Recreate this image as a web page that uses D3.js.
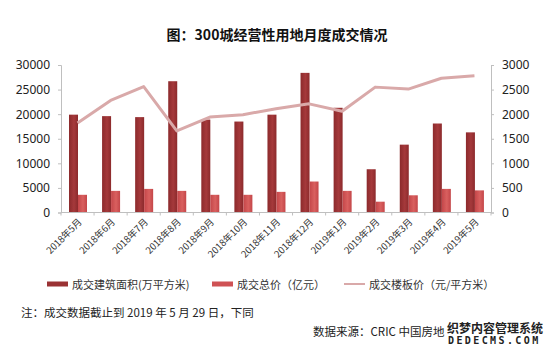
<!DOCTYPE html>
<html><head><meta charset="utf-8">
<script src="https://cdn.jsdelivr.net/npm/d3@7"></script>
<style>
html,body{margin:0;padding:0;background:#fff;}
svg{display:block;font-family:"Noto Sans CJK SC","Noto Sans",sans-serif;}
</style></head>
<body><svg id="c" width="554" height="355"></svg>
<script>
const categories = ["2018年5月","2018年6月","2018年7月","2018年8月","2018年9月","2018年10月","2018年11月","2018年12月","2019年1月","2019年2月","2019年3月","2019年4月","2019年5月"];
const areaValues  = [19900,19600,19400,26700,18900,18500,19900,28400,21300,8800,13800,18100,16300];
const totalValues = [3600,4400,4800,4400,3600,3600,4200,6300,4400,2200,3500,4800,4500];
const priceValues = [1820,2280,2560,1660,1940,1990,2110,2210,2060,2550,2510,2730,2780];
const leftTicks  = [0,5000,10000,15000,20000,25000,30000];
const rightTicks = [0,500,1000,1500,2000,2500,3000];
const seriesNames = ["成交建筑面积(万平方米)","成交总价（亿元）","成交楼板价（元/平方米）"];

const svg = d3.select("#c");
const L = 61, R = 491, T = 65, B = 212.5;
const x = d3.scaleBand().domain(categories).range([L, R]).padding(0);
const yL = d3.scaleLinear().domain([0, 30000]).range([B, T]);
const yR = d3.scaleLinear().domain([0, 3000]).range([B, T]);

const defs = svg.append("defs");
function grad(id, c1, c2) {
  const g = defs.append("linearGradient").attr("id", id).attr("x1","0").attr("x2","1").attr("y1","0").attr("y2","0");
  g.append("stop").attr("offset","0%").attr("stop-color",c1);
  g.append("stop").attr("offset","55%").attr("stop-color",c2);
  g.append("stop").attr("offset","100%").attr("stop-color",c1);
}
grad("gDark", "#8c2a2c", "#a5393b");
grad("gLight", "#c44649", "#d9605f");

// title
svg.append("text").attr("x", 277).attr("y", 40).attr("text-anchor","middle")
  .attr("font-size", 14).attr("font-weight","bold").attr("fill","#111")
  .text("图：300城经营性用地月度成交情况");

// axes
const axL = svg.append("g").attr("transform",`translate(${L},0)`)
  .call(d3.axisLeft(yL).tickValues(leftTicks).tickSize(3).tickPadding(8).tickFormat(d3.format("d")));
const axR = svg.append("g").attr("transform",`translate(${R},0)`)
  .call(d3.axisRight(yR).tickValues(rightTicks).tickSize(3).tickPadding(8).tickFormat(d3.format("d")));
[axL, axR].forEach(a => {
  a.selectAll("path,line").attr("stroke","#bfbfbf");
  a.selectAll("text").attr("font-size",12).attr("fill","#222").attr("font-family","'Noto Sans','Open Sans',sans-serif");
});

// bars
const bw = 9;
svg.append("g").selectAll("rect").data(categories).join("rect")
  .attr("x", (d) => x(d) + 8).attr("width", bw)
  .attr("y", (d,i) => yL(areaValues[i])).attr("height", (d,i) => B - yL(areaValues[i]))
  .attr("fill","url(#gDark)");
svg.append("g").selectAll("rect").data(categories).join("rect")
  .attr("x", (d) => x(d) + 8 + bw).attr("width", bw)
  .attr("y", (d,i) => yL(totalValues[i])).attr("height", (d,i) => B - yL(totalValues[i]))
  .attr("fill","url(#gLight)");

// bottom axis
const axB = svg.append("g").attr("transform",`translate(0,${B})`);
axB.append("line").attr("x1",L).attr("x2",R).attr("stroke","#bfbfbf");
axB.selectAll("line.t").data(d3.range(categories.length+1)).join("line").attr("class","t")
  .attr("x1", i => L + i * x.bandwidth()).attr("x2", i => L + i * x.bandwidth())
  .attr("y1",0).attr("y2",3).attr("stroke","#bfbfbf");
axB.selectAll("text").data(categories).join("text")
  .attr("transform", d => `translate(${x(d) + x.bandwidth()/2 + 5},${10}) rotate(-45)`)
  .attr("text-anchor","end").attr("font-size",9.5).attr("fill","#333")
  .text(d => d);

// line
const line = d3.line().x((d,i) => x(categories[i]) + x.bandwidth()/2).y(d => yR(d));
svg.append("path").datum(priceValues).attr("d", line)
  .attr("fill","none").attr("stroke","#d9a9a9").attr("stroke-width",3).attr("stroke-linejoin","round");

// legend
const lg = svg.append("g").attr("font-size",11).attr("fill","#333");
const legX = [47, 212, 344];
lg.append("rect").attr("x",legX[0]).attr("y",281.5).attr("width",21).attr("height",5).attr("fill","#9a3234");
lg.append("rect").attr("x",legX[1]).attr("y",281.5).attr("width",21).attr("height",5).attr("fill","#cf5254");
lg.append("line").attr("x1",legX[2]).attr("x2",legX[2]+21).attr("y1",284).attr("y2",284).attr("stroke","#d9a9a9").attr("stroke-width",2);
seriesNames.forEach((n,i) => lg.append("text").attr("x",legX[i]+25).attr("y",288.5).attr("fill","#333").text(n));

// notes
svg.append("text").attr("x",21).attr("y",317).attr("font-size",11.5).attr("fill","#222")
  .text("注：成交数据截止到 2019 年 5 月 29 日，下同");
svg.append("text").attr("x",313).attr("y",336).attr("font-size",11.5).attr("fill","#222")
  .text("数据来源：CRIC 中国房地");
// watermark
svg.append("text").attr("x",447).attr("y",333).attr("font-size",12).attr("font-weight","bold")
  .attr("fill","#222").attr("stroke","#fff").attr("stroke-width",2.5).attr("paint-order","stroke")
  .text("织梦内容管理系统");
svg.append("text").attr("x",448).attr("y",344).attr("font-size",10).attr("font-weight","bold")
  .attr("letter-spacing","2.4").attr("fill","#222").attr("stroke","#fff").attr("stroke-width",2.5).attr("paint-order","stroke")
  .attr("font-family","'DejaVu Sans Mono',monospace")
  .text("DEDECMS.COM");
</script></body></html>
